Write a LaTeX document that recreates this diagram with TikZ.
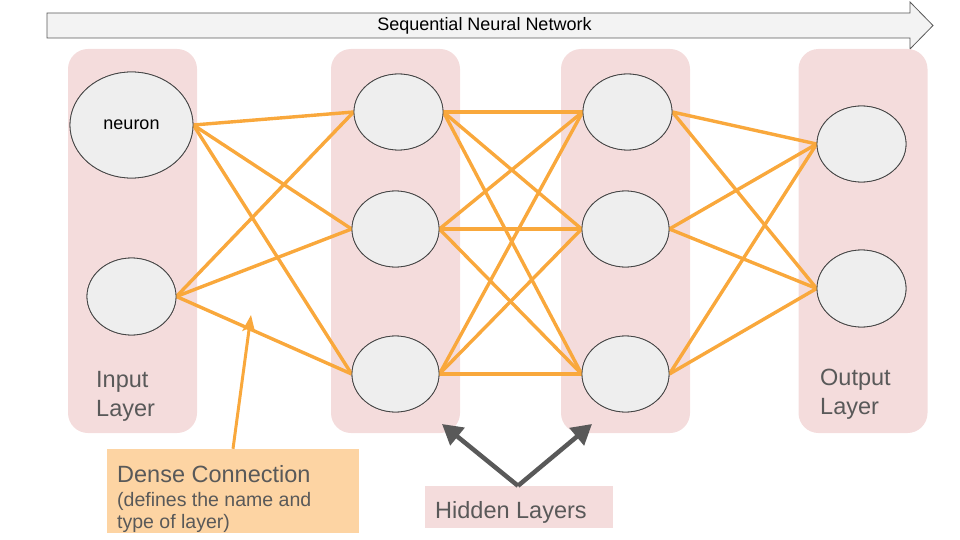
\documentclass[tikz,border=0pt]{standalone}
\usepackage{fontspec}
\setmainfont{Liberation Sans}
\usetikzlibrary{shapes.geometric,arrows.meta}
\definecolor{layerpink}{HTML}{F4DCDC}
\definecolor{neuronfill}{HTML}{EEEEEE}
\definecolor{neuronline}{HTML}{444444}
\definecolor{conn}{HTML}{F9A83C}
\definecolor{labelgray}{HTML}{595959}
\definecolor{densefill}{HTML}{FDD4A3}
\definecolor{arrowfill}{HTML}{F3F3F3}
\begin{document}
\begin{tikzpicture}[x=1pt,y=-1pt,
  layerbox/.style={fill=layerpink,draw=none,rounded corners=20pt,minimum width=129pt,minimum height=384pt,inner sep=0pt},
  neuron/.style={ellipse,fill=neuronfill,draw=neuronline,line width=0.8pt,inner sep=0pt},
  conline/.style={draw=conn,line width=3.4pt},
  biglabel/.style={text=labelgray,font=\fontsize{23.5}{29}\selectfont,align=left,inner sep=0pt},
  pointer/.style={draw=labelgray,line width=4.5pt,-{Triangle[length=20pt,width=22pt]}}
]
\useasboundingbox (0,0) rectangle (960,540);
% top arrow
\draw[fill=arrowfill,draw=labelgray,line width=0.8pt] (47,13) -- (910,13) -- (910,2) -- (933,25.5) -- (910,49) -- (910,38) -- (47,38) -- cycle;
\node[font=\fontsize{18}{20}\selectfont,inner sep=0pt] (title) at (484.5,26) {Sequential Neural Network};
% layer boxes
\node[layerbox] (inbox) at (132.5,241) {};
\node[layerbox] (h1box) at (395.5,241) {};
\node[layerbox] (h2box) at (625.5,241) {};
\node[layerbox] (outbox) at (863,241) {};
% layer labels (base anchor = last line baseline)
\node[biglabel,anchor=base west] (inlabel) at (96,416) {Input\\Layer};
\node[biglabel,anchor=base west] (outlabel) at (820,414) {Output\\Layer};
% neuron positions
\coordinate (in1) at (131.5,125);
\coordinate (in2) at (131.5,296.5);
\coordinate (h1a) at (398.5,112);
\coordinate (h1b) at (395.5,229);
\coordinate (h1c) at (395.5,374);
\coordinate (h2a) at (627.5,112);
\coordinate (h2b) at (625.5,229);
\coordinate (h2c) at (625.5,374);
\coordinate (o1) at (861.5,144);
\coordinate (o2) at (861.5,288.5);
\node[neuron,minimum width=123pt,minimum height=106pt] (nin1) at (in1) {};
\node[neuron,minimum width=89pt,minimum height=77pt] (nin2) at (in2) {};
\node[neuron,minimum width=89pt,minimum height=76pt] (nh1a) at (h1a) {};
\node[neuron,minimum width=87pt,minimum height=76pt] (nh1b) at (h1b) {};
\node[neuron,minimum width=87pt,minimum height=76pt] (nh1c) at (h1c) {};
\node[neuron,minimum width=89pt,minimum height=76pt] (nh2a) at (h2a) {};
\node[neuron,minimum width=87pt,minimum height=76pt] (nh2b) at (h2b) {};
\node[neuron,minimum width=87pt,minimum height=76pt] (nh2c) at (h2c) {};
\node[neuron,minimum width=89pt,minimum height=76pt] (no1) at (o1) {};
\node[neuron,minimum width=89pt,minimum height=77pt] (no2) at (o2) {};
% connectors
\foreach \a in {nin1,nin2}{\foreach \b in {nh1a,nh1b,nh1c}{\draw[conline] (\a.east) -- (\b.west);}}
\foreach \a in {nh1a,nh1b,nh1c}{\foreach \b in {nh2a,nh2b,nh2c}{\draw[conline] (\a.east) -- (\b.west);}}
\foreach \a in {nh2a,nh2b,nh2c}{\foreach \b in {no1,no2}{\draw[conline] (\a.east) -- (\b.west);}}
% redraw neurons on top
\node[neuron,minimum width=123pt,minimum height=106pt,font=\fontsize{18}{20}\selectfont] at (in1) {neuron};
\node[neuron,minimum width=89pt,minimum height=77pt] at (in2) {};
\node[neuron,minimum width=89pt,minimum height=76pt] at (h1a) {};
\node[neuron,minimum width=87pt,minimum height=76pt] at (h1b) {};
\node[neuron,minimum width=87pt,minimum height=76pt] at (h1c) {};
\node[neuron,minimum width=89pt,minimum height=76pt] at (h2a) {};
\node[neuron,minimum width=87pt,minimum height=76pt] at (h2b) {};
\node[neuron,minimum width=87pt,minimum height=76pt] at (h2c) {};
\node[neuron,minimum width=89pt,minimum height=76pt] at (o1) {};
\node[neuron,minimum width=89pt,minimum height=77pt] at (o2) {};
% dense connection callout
\node[fill=densefill,draw=none,minimum width=252pt,minimum height=84pt,inner sep=0pt] (dense) at (233,491) {};
\node[anchor=base west,inner sep=0pt,text=labelgray,font=\fontsize{23.5}{29}\selectfont] (densetitle) at (117,482) {Dense Connection};
\node[anchor=base west,inner sep=0pt,text=labelgray,font=\fontsize{19.5}{21.5}\selectfont,align=left] (densetext) at (117,528) {(defines the name and\\type of layer)};
\coordinate (densetip) at (251,315);
\draw[draw=conn,line width=3pt,-{Stealth[length=17pt,width=13pt,inset=4pt]}] (dense.north -| 233,0) -- (densetip);
% hidden layers callout
\node[fill=layerpink,draw=none,minimum width=188pt,minimum height=42pt,inner sep=0pt] (hidden) at (519,507) {};
\node[anchor=base west,inner sep=0pt,text=labelgray,font=\fontsize{23.5}{29}\selectfont] (hiddentext) at (435,518) {Hidden Layers};
\coordinate (hleft) at (442,424);
\coordinate (hright) at (592,424);
\draw[pointer] (hidden.north -| 518,0) -- (hleft);
\draw[pointer] (hidden.north -| 518,0) -- (hright);
\end{tikzpicture}
\end{document}
